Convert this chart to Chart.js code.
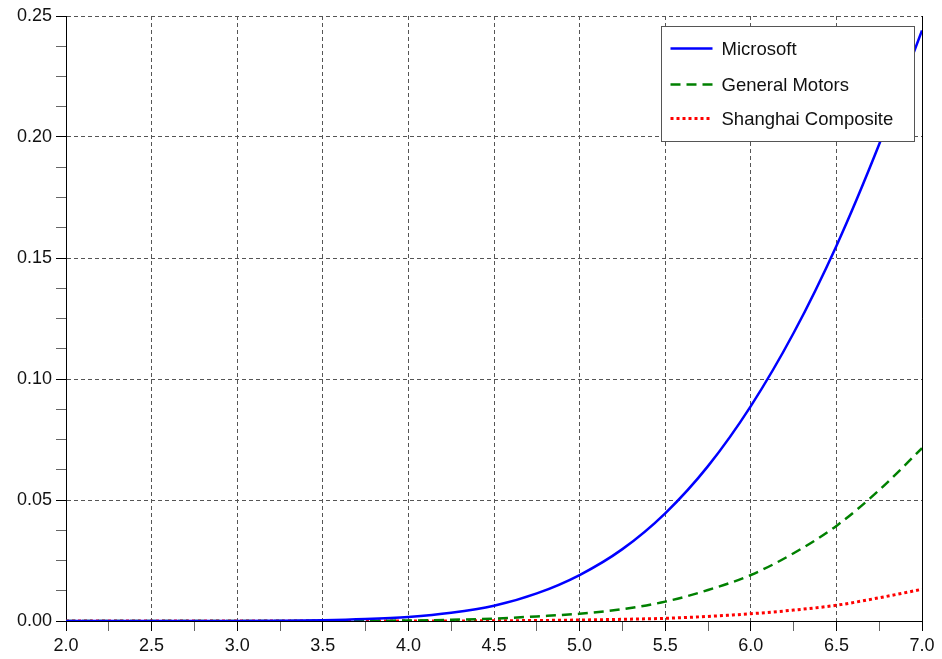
<!DOCTYPE html>
<html>
<head>
<meta charset="utf-8">
<title>Microsoft / General Motors / Shanghai Composite</title>
<script src="https://cdn.jsdelivr.net/npm/chart.js@4.4.0/dist/chart.umd.min.js"></script>
<style>
  html, body { margin: 0; padding: 0; background: #fff; }
  #wrap { width: 942px; height: 659px; }
</style>
</head>
<body>
<div id="wrap"><canvas id="chart" width="942" height="659"></canvas></div>
<script>
// Values, x from 2.0 to 7.0 every 0.25
const xValues = [2.0, 2.25, 2.5, 2.75, 3.0, 3.25, 3.5, 3.75, 4.0, 4.25, 4.5, 4.75, 5.0, 5.25, 5.5, 5.75, 6.0, 6.25, 6.5, 6.75, 7.0];
const microsoft = [0, 0, 0, 0, 0.00002, 0.0001, 0.0003, 0.0008, 0.0017, 0.0034, 0.0063, 0.0114, 0.019, 0.0297, 0.0445, 0.064, 0.0888, 0.119, 0.155, 0.197, 0.244];
const generalMotors = [0, 0, 0, 0, 0, 0, 0.00002, 0.0001, 0.0002, 0.0005, 0.001, 0.0019, 0.003, 0.0049, 0.008, 0.0128, 0.019, 0.028, 0.0393, 0.0541, 0.0714];
const shanghai = [0, 0, 0, 0, 0, 0, 0, 0, 0, 0.00003, 0.0001, 0.0002, 0.0004, 0.0007, 0.0011, 0.0019, 0.003, 0.0045, 0.0065, 0.0096, 0.0131];
const seriesNames = ['Microsoft', 'General Motors', 'Shanghai Composite'];

// Axis ranges / tick steps
const xRange = [2.0, 7.0];
const yRange = [0, 0.25];
const xMajor = 0.5, xMinor = 0.25;
const yMajor = 0.05, yMinor = 0.0125;

const FONT = 'Liberation Sans, Arial, Helvetica, sans-serif';

function isMajor(v, step) {
    const r = v / step;
    return Math.abs(r - Math.round(r)) < 1e-6;
}

function toPoints(arr) {
    return xValues.map((x, i) => ({ x: x, y: arr[i] }));
}

// right frame line + legend box inside the plot
const frameAndLegend = {
    id: 'frameAndLegend',
    afterDraw(chart) {
        const ctx = chart.ctx;
        const area = chart.chartArea;
        ctx.save();
        ctx.strokeStyle = '#000';
        ctx.lineWidth = 1;
        ctx.setLineDash([]);
        ctx.beginPath();
        ctx.moveTo(Math.round(area.right) + 0.5, area.top);
        ctx.lineTo(Math.round(area.right) + 0.5, area.bottom);
        ctx.stroke();

        const bx = Math.round(area.right) - 261 + 0.5;
        const by = Math.round(area.top) + 10 + 0.5;
        const bw = 253, bh = 115;
        ctx.fillStyle = '#fff';
        ctx.fillRect(bx, by, bw, bh);
        ctx.strokeStyle = '#555';
        ctx.strokeRect(bx, by, bw, bh);

        const rows = [22, 58, 92];
        chart.data.datasets.forEach((ds, i) => {
            const y = by + rows[i];
            ctx.strokeStyle = ds.borderColor;
            ctx.lineWidth = ds.borderWidth;
            ctx.setLineDash(ds.borderDash || []);
            ctx.beginPath();
            ctx.moveTo(bx + 9, y);
            ctx.lineTo(bx + 51, y);
            ctx.stroke();
            ctx.fillStyle = '#111';
            ctx.font = '18.5px ' + FONT;
            ctx.textBaseline = 'middle';
            ctx.textAlign = 'left';
            ctx.fillText(ds.label, bx + 60, y + 1);
        });
        ctx.restore();
    }
};

const chart = new Chart(document.getElementById('chart'), {
    type: 'line',
    data: {
        datasets: [
            { label: seriesNames[0], data: toPoints(microsoft), borderColor: '#0000ff', borderWidth: 2.5, borderDash: [] },
            { label: seriesNames[1], data: toPoints(generalMotors), borderColor: '#008000', borderWidth: 2.5, borderDash: [10, 6] },
            { label: seriesNames[2], data: toPoints(shanghai), borderColor: '#ff0000', borderWidth: 3, borderDash: [3, 3] }
        ]
    },
    options: {
        responsive: false,
        animation: false,
        elements: {
            point: { radius: 0 },
            line: { cubicInterpolationMode: 'monotone', fill: false, borderCapStyle: 'butt' }
        },
        layout: { padding: { top: 16, right: 20, left: 0, bottom: 0 } },
        plugins: {
            legend: { display: false },
            tooltip: { enabled: false }
        },
        scales: {
            x: {
                type: 'linear',
                min: xRange[0],
                max: xRange[1],
                afterFit(s) { s.height = 38; },
                border: { display: true, color: '#000', width: 1, dash: [4, 3] },
                grid: {
                    color: c => isMajor(c.tick.value, xMajor) ? '#555' : 'rgba(0,0,0,0)',
                    tickColor: c => isMajor(c.tick.value, xMajor) ? '#000' : '#666',
                    tickLength: 10,
                    lineWidth: 1
                },
                ticks: {
                    stepSize: xMinor,
                    autoSkip: false,
                    maxRotation: 0,
                    padding: 4,
                    color: '#111',
                    font: { family: FONT, size: 18 },
                    callback: v => isMajor(v, xMajor) ? v.toFixed(1) : ''
                }
            },
            y: {
                type: 'linear',
                min: yRange[0],
                max: yRange[1],
                afterFit(s) { s.width = 66; },
                border: { display: true, color: '#000', width: 1, dash: [4, 3] },
                grid: {
                    color: c => isMajor(c.tick.value, yMajor) ? '#555' : 'rgba(0,0,0,0)',
                    tickColor: c => isMajor(c.tick.value, yMajor) ? '#000' : '#666',
                    tickLength: 10,
                    lineWidth: 1
                },
                ticks: {
                    stepSize: yMinor,
                    autoSkip: false,
                    padding: 4,
                    color: '#111',
                    font: { family: FONT, size: 18 },
                    callback: v => isMajor(v, yMajor) ? v.toFixed(2) : ''
                }
            }
        }
    },
    plugins: [frameAndLegend]
});
</script>
</body>
</html>
